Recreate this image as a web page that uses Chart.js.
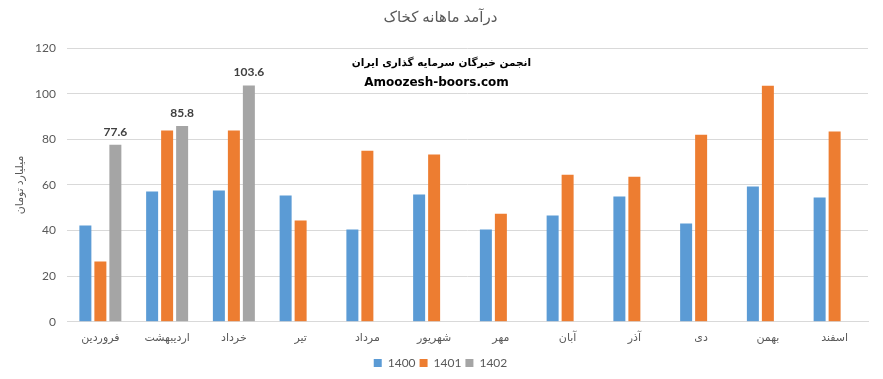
<!DOCTYPE html>
<html>
<head>
<meta charset="utf-8">
<script src="https://cdn.jsdelivr.net/npm/chart.js@4"></script>
<style>
html,body{margin:0;padding:0;background:#fff;}
#wrap{position:relative;width:883px;height:379px;}
</style>
</head>
<body>
<div id="wrap"><canvas id="c" width="883" height="379"></canvas></div>
<script>
const months = ["فروردین","اردیبهشت","خرداد","تیر","مرداد","شهریور","مهر","آبان","آذر","دی","بهمن","اسفند"];
const seriesNames = ["1400","1401","1402"];
const values1400 = [42.2,57.1,57.5,55.3,40.4,55.8,40.4,46.6,54.9,43.1,59.3,54.5];
const values1401 = [26.4,83.8,83.8,44.4,75.0,73.3,47.4,64.5,63.6,82.0,103.5,83.4];
const values1402 = [77.6,85.8,103.6,null,null,null,null,null,null,null,null,null];
const yTicks = [0,20,40,60,80,100,120];
const chartTitle = "درآمد ماهانه کخاک";
const yTitle = "میلیارد تومان";
const watermark1 = "انجمن خبرگان سرمایه گذاری ایران";
const watermark2 = "Amoozesh-boors.com";

const FONT = "Lato, 'DejaVu Sans', sans-serif";

const labelPlugin = {
  id: 'labels1402',
  afterDatasetsDraw(chart) {
    const ctx = chart.ctx;
    const meta = chart.getDatasetMeta(2);
    ctx.save();
    ctx.fillStyle = '#404040';
    ctx.font = "bold 12px " + FONT;
    ctx.textAlign = 'center';
    ctx.textBaseline = 'bottom';
    meta.data.forEach((el, i) => {
      const v = values1402[i];
      if (v === null) return;
      ctx.fillText(v.toFixed(1), el.x, el.y - 7);
    });
    ctx.restore();
  }
};

const watermarkPlugin = {
  id: 'watermark',
  afterDraw(chart) {
    const ctx = chart.ctx;
    const area = chart.chartArea;
    const cx = (area.left + area.right) / 2 - 31;
    ctx.save();
    ctx.fillStyle = '#000';
    ctx.textAlign = 'center';
    ctx.textBaseline = 'middle';
    ctx.font = "bold 10.5px 'DejaVu Sans', sans-serif";
    ctx.fillText(watermark1, cx + 5, area.top + 15);
    ctx.font = "bold 12px 'DejaVu Sans', sans-serif";
    ctx.fillText(watermark2, cx, area.top + 35);
    ctx.restore();
  }
};

new Chart(document.getElementById('c'), {
  type: 'bar',
  data: {
    labels: months,
    datasets: [
      {label: seriesNames[0], data: values1400, backgroundColor: '#5B9BD5'},
      {label: seriesNames[1], data: values1401, backgroundColor: '#ED7D31'},
      {label: seriesNames[2], data: values1402, backgroundColor: '#A5A5A5'}
    ]
  },
  options: {
    responsive: false,
    animation: false,
    devicePixelRatio: 1,
    layout: {padding: {left: 13, right: 15, top: 6, bottom: 0}},
    datasets: {bar: {categoryPercentage: 0.674, barPercentage: 0.8}},
    plugins: {
      title: {
        display: true,
        text: chartTitle,
        color: '#595959',
        font: {family: FONT, size: 15, weight: 'normal'},
        padding: {top: 2, bottom: 22}
      },
      legend: {
        position: 'bottom',
        labels: {
          color: '#595959',
          font: {family: FONT, size: 12},
          boxWidth: 8,
          boxHeight: 8,
          padding: 4
        }
      },
      tooltip: {enabled: false}
    },
    scales: {
      x: {
        grid: {display: false, drawTicks: false},
        border: {display: true, color: '#D9D9D9', width: 1},
        ticks: {color: '#595959', font: {family: FONT, size: 11}, padding: 9, maxRotation: 0, autoSkip: false}
      },
      y: {
        min: 0,
        max: 120,
        afterBuildTicks(scale) { scale.ticks = yTicks.map(v => ({value: v})); },
        afterFit(scale) { scale.width = 54; },
        grid: {color: '#D9D9D9', drawTicks: false},
        border: {display: false},
        ticks: {color: '#595959', font: {family: FONT, size: 12}, padding: 11},
        title: {display: true, text: yTitle, color: '#595959', font: {family: FONT, size: 11}, padding: {top: 0, bottom: 4}}
      }
    }
  },
  plugins: [labelPlugin, watermarkPlugin]
});
</script>
</body>
</html>
